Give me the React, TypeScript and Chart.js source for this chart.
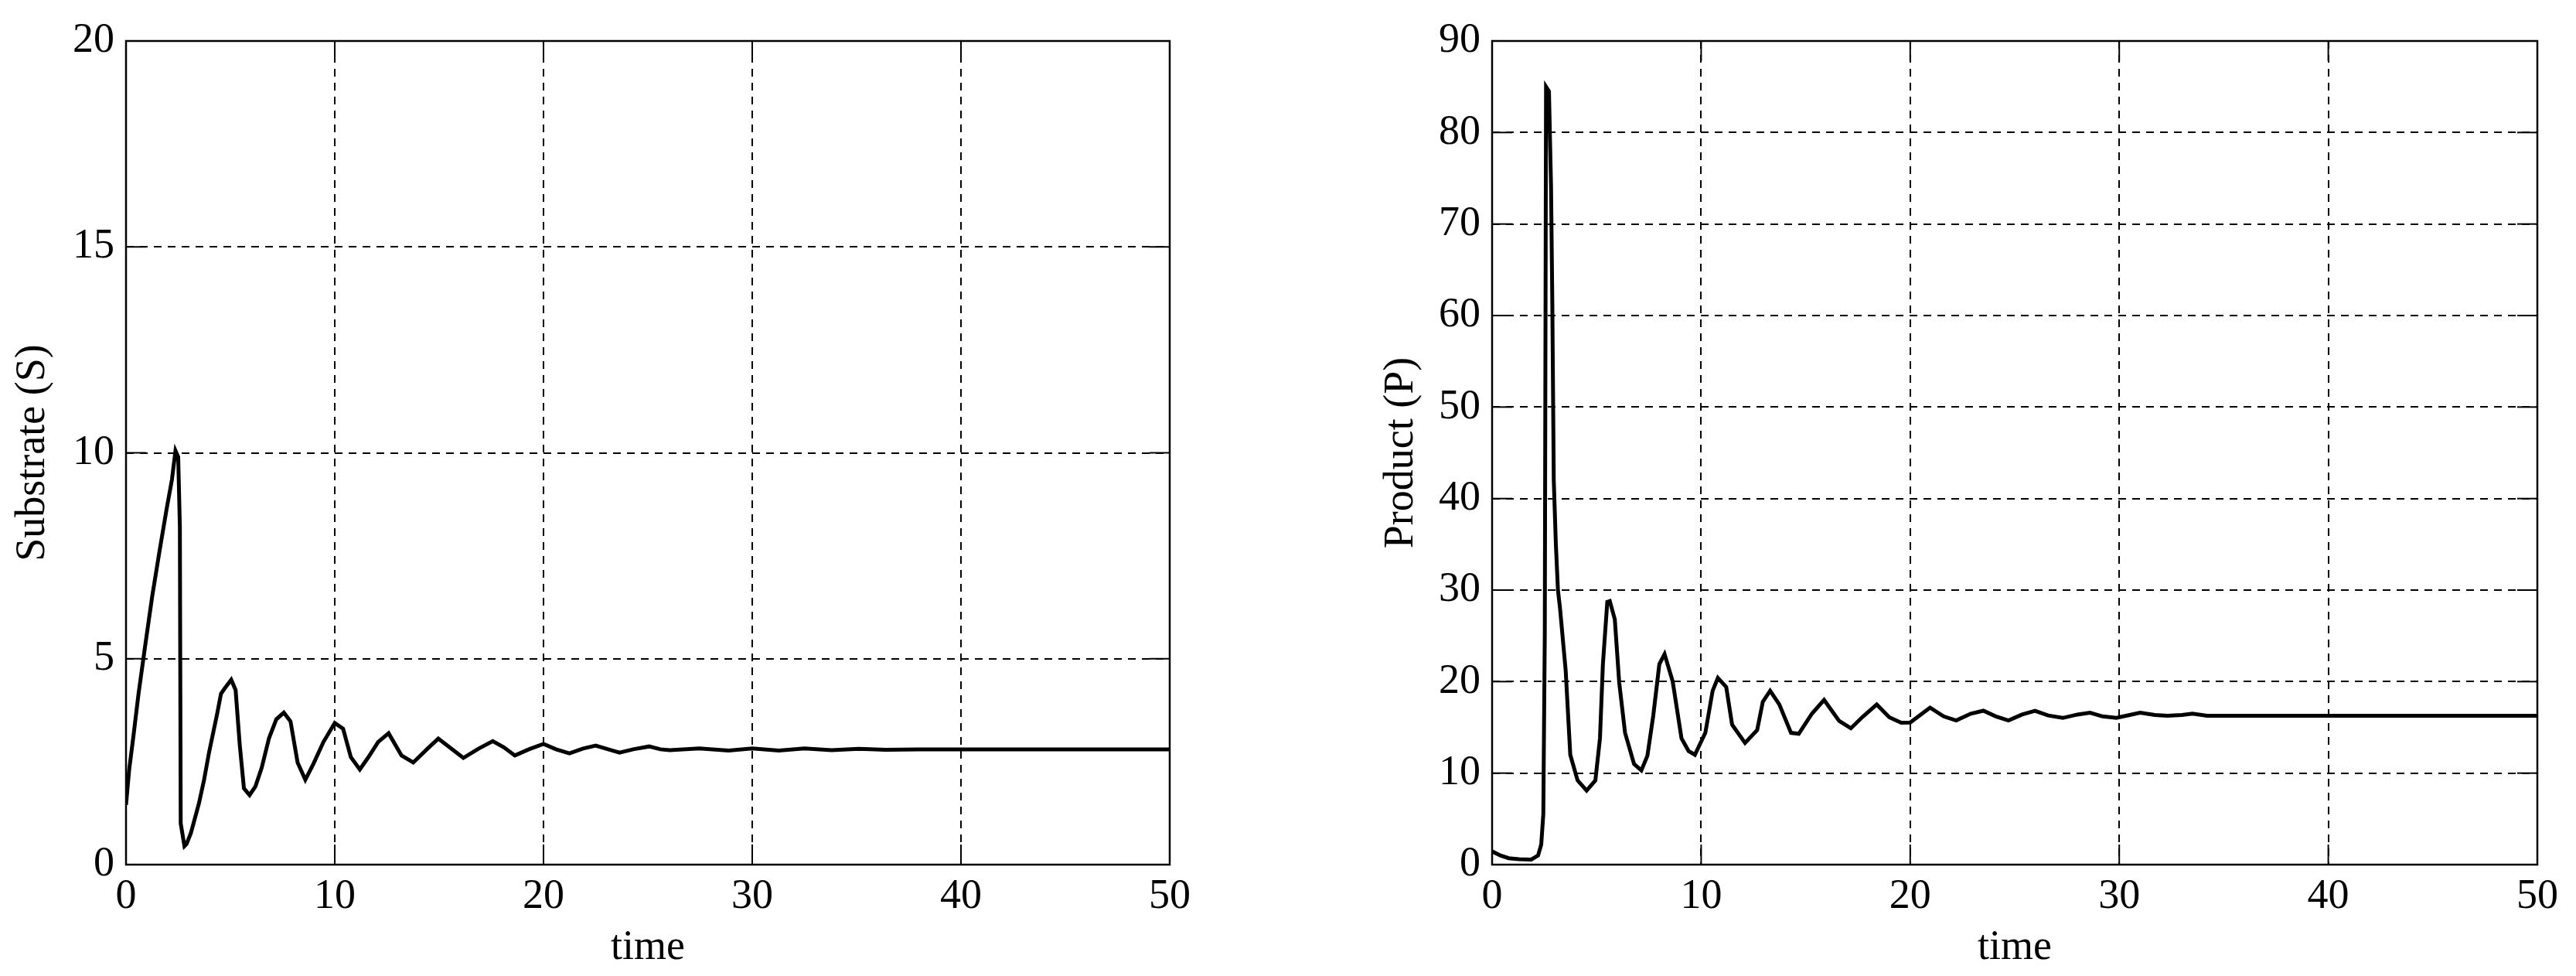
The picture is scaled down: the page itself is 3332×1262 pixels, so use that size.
import React, { useEffect, useRef } from "react";
import { Chart, registerables } from "chart.js";

Chart.register(...registerables);

// ---- Substrate (S) vs time ----
const timeS = [
  0, 0.15, 0.35, 0.6, 0.9, 1.25, 1.6, 1.95, 2.2, 2.37, 2.5, 2.58, 2.62, 2.8, 2.9,
  3.11, 3.49, 3.74, 3.98, 4.36, 4.55, 4.73, 5.04, 5.25, 5.45, 5.65, 5.92, 6.2, 6.5,
  6.85, 7.2, 7.56, 7.88, 8.22, 8.59, 8.97, 9.46, 10.0, 10.4, 10.77, 11.2, 11.6, 12.08,
  12.58, 13.2, 13.76, 14.45, 14.96, 15.5, 16.16, 16.9, 17.57, 18.1, 18.63, 19.3, 20.0,
  20.6, 21.24, 21.9, 22.5, 23.1, 23.64, 24.3, 25.06, 25.6, 26.05, 27.46, 28.87, 30.0,
  31.27, 32.5, 33.8, 35.1, 36.4, 38, 40, 45, 50,
];
const substrate = [
  1.45, 2.3, 3.1, 4.15, 5.25, 6.5, 7.6, 8.65, 9.35, 10.05, 9.9, 8.2, 1.0, 0.45, 0.5,
  0.77, 1.48, 2.06, 2.73, 3.65, 4.15, 4.28, 4.49, 4.24, 2.9, 1.85, 1.69, 1.9, 2.35,
  3.07, 3.53, 3.69, 3.48, 2.48, 2.06, 2.44, 2.98, 3.44, 3.3, 2.61, 2.31, 2.6, 2.98,
  3.19, 2.65, 2.48, 2.82, 3.06, 2.85, 2.59, 2.82, 3.0, 2.85, 2.65, 2.8, 2.93,
  2.8, 2.7, 2.82, 2.89, 2.8, 2.72, 2.8, 2.87, 2.8, 2.78, 2.82, 2.77, 2.82,
  2.77, 2.82, 2.78, 2.81, 2.79, 2.8, 2.8, 2.8, 2.8,
];

// ---- Product (P) vs time ----
const timeP = [
  0, 0.4, 0.8, 1.3, 1.87, 2.2, 2.35, 2.45, 2.52, 2.58, 2.72, 2.82, 2.88, 2.95, 3.05,
  3.15, 3.25, 3.52, 3.74, 4.09, 4.52, 4.94, 5.16, 5.3, 5.51, 5.63, 5.87, 6.08, 6.36,
  6.79, 7.14, 7.43, 7.71, 8.0, 8.25, 8.64, 9.06, 9.4, 9.7, 10.2, 10.55, 10.8, 11.2,
  11.48, 12.1, 12.68, 12.95, 13.3, 13.74, 14.3, 14.67, 15.3, 15.88, 16.6, 17.16,
  17.75, 18.4, 19.0, 19.57, 20.0, 20.95, 21.6, 22.2, 22.9, 23.5, 24.1, 24.7, 25.35,
  25.97, 26.6, 27.3, 28.0, 28.6, 29.2, 29.86, 30.5, 31.0, 31.7, 32.3, 33.0, 33.5,
  34.2, 40, 45, 50,
];
const product = [
  1.45, 1.0, 0.7, 0.6, 0.55, 1.0, 2.2, 5.5, 25, 85, 84.5, 74, 61.5, 42, 35,
  30, 28, 21.2, 12, 9.2, 8.1, 9.2, 13.8, 21.9, 28.7, 28.8, 26.8, 19.9, 14.4,
  11, 10.3, 11.9, 16.3, 21.9, 23, 20, 13.8, 12.4, 12.0, 14.4, 19, 20.4, 19.4,
  15.3, 13.3, 14.7, 17.8, 19, 17.5, 14.4, 14.3, 16.5, 18.0, 15.7, 14.9,
  16.2, 17.5, 16.1, 15.5, 15.53, 17.16, 16.2, 15.75, 16.5, 16.82, 16.2, 15.75, 16.4,
  16.8, 16.3, 16.03, 16.4, 16.6, 16.2, 16.03, 16.35, 16.6, 16.35, 16.26, 16.35, 16.5,
  16.26, 16.26, 16.26, 16.26,
];

const xTicksStep = 10;
const FONT = "'Liberation Serif', 'Times New Roman', serif";
const FS = 54;

const framePlugin = {
  id: "frameTicks",
  afterDatasetsDraw(chart: any) {
    const { ctx, chartArea, scales } = chart;
    const { left, right, top, bottom } = chartArea;
    ctx.save();
    ctx.setLineDash([]);
    ctx.strokeStyle = "#000";
    ctx.lineWidth = 2;
    const len = 26;
    const seg = (x1: number, y1: number, x2: number, y2: number) => {
      ctx.beginPath();
      ctx.moveTo(x1, y1);
      ctx.lineTo(x2, y2);
      ctx.stroke();
    };
    scales.x.ticks.forEach((t: any) => {
      const px = scales.x.getPixelForValue(t.value);
      seg(px, bottom, px, bottom - len);
      seg(px, top, px, top + len);
    });
    scales.y.ticks.forEach((t: any) => {
      const py = scales.y.getPixelForValue(t.value);
      seg(left, py, left + len, py);
      seg(right, py, right - len, py);
    });
    ctx.lineWidth = 2.5;
    ctx.strokeRect(left, top, right - left, bottom - top);
    ctx.restore();
  },
};

function makeConfig(
  xs: number[],
  ys: number[],
  yMax: number,
  yStep: number,
  yTitle: string,
  yAxisWidth: number,
  yTitlePad: number,
  padRight: number
): any {
  return {
    type: "line",
    data: {
      datasets: [
        {
          data: xs.map((x, i) => ({ x, y: ys[i] })),
          borderColor: "#000",
          borderWidth: 5,
          pointRadius: 0,
          tension: 0,
          fill: false,
        },
      ],
    },
    options: {
      animation: false,
      responsive: false,
      devicePixelRatio: 1,
      layout: { padding: { left: 0, right: padRight, top: 53, bottom: 0 } },
      plugins: { legend: { display: false }, tooltip: { enabled: false } },
      scales: {
        x: {
          type: "linear",
          min: 0,
          max: 50,
          afterFit: (s: any) => {
            s.height = 144;
          },
          ticks: {
            stepSize: xTicksStep,
            color: "#000",
            padding: 9,
            maxRotation: 0,
            font: { family: FONT, size: FS },
          },
          grid: { color: "#000", lineWidth: 2, drawTicks: false },
          border: { display: false, dash: [10, 8] },
          title: {
            display: true,
            text: "time",
            color: "#000",
            font: { family: FONT, size: FS },
            padding: { top: 0, bottom: 4 },
          },
        },
        y: {
          type: "linear",
          min: 0,
          max: yMax,
          afterFit: (s: any) => {
            s.width = yAxisWidth;
          },
          ticks: {
            stepSize: yStep,
            color: "#000",
            padding: 15,
            font: { family: FONT, size: FS },
          },
          grid: { color: "#000", lineWidth: 2, drawTicks: false },
          border: { display: false, dash: [10, 8] },
          title: {
            display: true,
            text: yTitle,
            color: "#000",
            font: { family: FONT, size: FS },
            padding: { top: yTitlePad, bottom: 0 },
          },
        },
      },
    },
    plugins: [framePlugin],
  };
}

function Panel(props: { cfg: () => any; left: number }) {
  const ref = useRef<HTMLCanvasElement>(null);
  useEffect(() => {
    if (!ref.current) return;
    const chart = new Chart(ref.current, props.cfg());
    return () => chart.destroy();
  }, []);
  return (
    <canvas
      ref={ref}
      width={1666}
      height={1262}
      style={{ position: "absolute", left: props.left, top: 0, width: 1666, height: 1262, display: "block" }}
    />
  );
}

export default function App() {
  return (
    <div style={{ position: "absolute", left: 0, top: 0, width: 3332, height: 1262, background: "#fff" }}>
      <Panel left={0} cfg={() => makeConfig(timeS, substrate, 20, 5, "Substrate (S)", 163, 10, 153)} />
      <Panel left={1666} cfg={() => makeConfig(timeP, product, 90, 10, "Product (P)", 264, 114, 50)} />
    </div>
  );
}
